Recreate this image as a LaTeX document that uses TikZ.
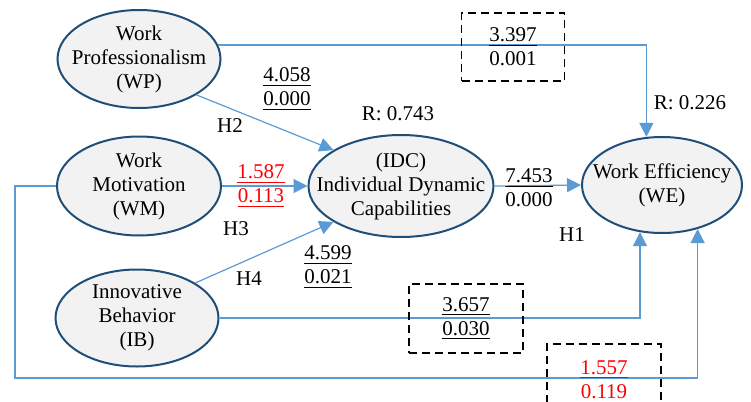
\documentclass[tikz,border=0pt]{standalone}
\usepackage{fontspec}
\setmainfont{Liberation Serif}
\usetikzlibrary{shapes.geometric, arrows.meta}

\definecolor{nodeblue}{RGB}{31,78,121}
\definecolor{linkblue}{RGB}{91,155,213}
\definecolor{nodefill}{RGB}{242,242,242}

\begin{document}
\begin{tikzpicture}[x=0.5pt, y=-0.5pt,
    every node/.style={font=\fontsize{10.5}{12}\selectfont},
    latent/.style={ellipse, draw=nodeblue, line width=1pt, fill=nodefill, inner sep=0pt},
    link/.style={draw=linkblue, line width=0.6pt, -{Triangle[length=7pt,width=7pt]}},
    coef/.style={align=center, inner sep=0pt},
    valbox/.style={draw, line width=0.8pt, dash pattern=on 4pt off 2.5pt, align=center, inner sep=0pt}]
        \clip (0,0) rectangle (751,402);

        % Latent variables (text set as a centre label, so it may run past the inner box)
        \node[latent, minimum width=81.5pt, minimum height=49pt,
              label={[align=center]center:{Work\\Professionalism\\(WP)}}] (wp) at (139,59) {};
        \node[latent, minimum width=82pt, minimum height=49.5pt,
              label={[align=center]center:{Work\\Motivation\\(WM)}}] (wm) at (139,186) {};
        \node[latent, minimum width=81.5pt, minimum height=48.5pt,
              label={[align=center]center:{Innovative\\Behavior\\(IB)}}] (ib) at (137,318) {};
        \node[latent, minimum width=92.5pt, minimum height=51pt,
              label={[align=center]center:{(IDC)\\Individual Dynamic\\Capabilities}}] (idc) at (401,186) {};
        \node[latent, minimum width=80pt, minimum height=48pt,
              label={[align=center]center:{Work Efficiency\\(WE)}}] (we) at (662,185) {};

        % Paths into IDC
        \draw[link] (wp.-32) -- (idc.152);
        \draw[link] (wm.east) -- (idc.west);
        \draw[link] (ib.31) -- (idc.208);

        % Paths into WE
        \draw[link] (idc.east) -- (we.west);
        \draw[link] (wp.10) -| (we.108);
        \draw[link] (ib.east) -| (we.-115);
        \coordinate (wmcorner) at (15,378);
        \draw[link] (wm.west) -| (wmcorner) -| (we.-51);

        % Coefficients and p-values
        \node[coef] (wpidc) at (287,89) {\underline{4.058}\\\underline{0.000}};
        \node[coef, red] (wmidc) at (261,186) {\underline{1.587}\\\underline{0.113}};
        \node[coef] (ibidc) at (328,267) {\underline{4.599}\\\underline{0.021}};
        \node[coef] (idcwe) at (529,188) {\underline{7.453}\\0.000};

        % Dashed boxes on the direct paths
        \node[valbox, minimum width=51.5pt, minimum height=34pt] (wpwe) at (513,47) {\underline{3.397}\\0.001};
        \node[valbox, minimum width=57pt, minimum height=34.5pt] (ibwe) at (466,318.5) {\underline{3.657}\\\underline{0.030}};
        \node[valbox, minimum width=57pt, minimum height=36pt, text=red] (wmwe) at (604,380) {\underline{1.557}\\0.119};

        % Hypotheses and R values
        \node (h1) at (572,235) {H1};
        \node (h2) at (230,126) {H2};
        \node (h3) at (236,229) {H3};
        \node (h4) at (249,279) {H4};
        \node (ridc) at (398,114) {R: 0.743};
        \node (rwe) at (690,103) {R: 0.226};

\end{tikzpicture}
\end{document}
